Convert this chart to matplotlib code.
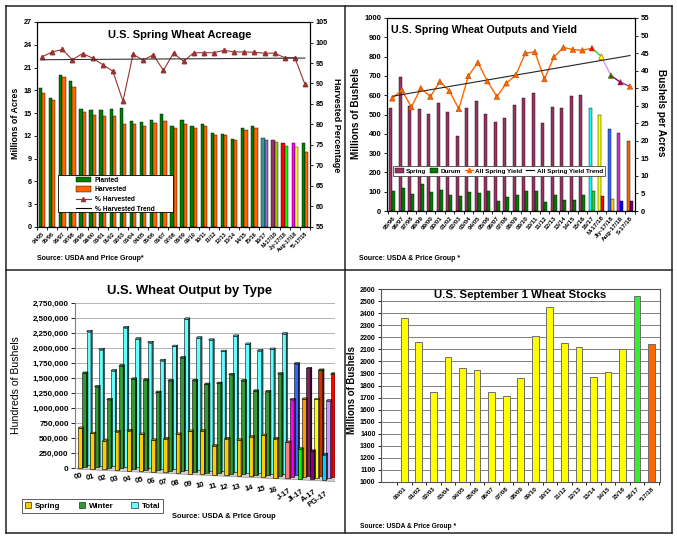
import numpy as np
import matplotlib.pyplot as plt
from matplotlib.patches import Patch, Polygon, Rectangle
from matplotlib.lines import Line2D
from matplotlib.colors import to_rgb

plt.rcParams['font.family'] = ['Liberation Sans', 'DejaVu Sans']
plt.rcParams['font.weight'] = 'bold'
plt.rcParams['axes.linewidth'] = 0.8
plt.rcParams['xtick.major.width'] = 0.6
plt.rcParams['ytick.major.width'] = 0.6
plt.rcParams['xtick.major.size'] = 2.5
plt.rcParams['ytick.major.size'] = 2.5

W, H = 677, 543

# --- U.S. Spring Wheat Acreage (million acres, % harvested) ---
acre_years = ['94/95', '95/96', '96/97', '97/98', '98/99', '99/00', '00/01', '01/02',
              '02/03', '03/04', '04/05', '05/06', '06/07', '07/08', '08/09', '09/10',
              '10/11', '11/12', '12/13', '13/14', '14/15', '15/16', '16/17',
              'M-17/18', 'Jly-17/18', 'Aug-17/18', '*S-17/18']
planted = [18.35, 17.0, 20.05, 19.2, 15.6, 15.45, 15.4, 15.6, 15.7, 13.9,
           13.8, 14.1, 14.9, 13.3, 14.1, 13.25, 13.6, 12.4, 12.3, 11.6,
           13.1, 13.35, 11.7, 11.4, 11.0, 11.0, 11.0]
harvested = [17.7, 16.7, 19.7, 18.4, 15.2, 14.8, 14.6, 14.6, 13.5, 13.5,
             13.25, 13.65, 13.95, 13.0, 13.5, 13.0, 13.3, 12.1, 12.1, 11.4,
             12.8, 13.0, 11.4, 11.15, 10.7, 10.6, 9.9]
pct_harvested = [96.5, 97.7, 98.3, 95.8, 97.3, 96.2, 94.6, 93.0, 85.7, 97.1,
                 95.7, 97.0, 93.2, 97.4, 95.4, 97.5, 97.5, 97.5, 98.1, 97.7,
                 97.7, 97.6, 97.4, 97.4, 96.3, 96.3, 89.8]
pct_trend_ends = [95.8, 96.2]
planted_colors = ['#008000'] * 22 + ['#339999', '#993366', '#FF0000', '#FF00FF', '#008000']
harvested_colors = ['#FF6600'] * 22 + ['#9966CC', '#99CC00', '#00FF00', '#FFFF00', '#FF6600']

# --- U.S. Spring Wheat Outputs and Yield (million bushels, bu/acre) ---
out_years = ['95/96', '96/97', '97/98', '98/99', '99/00', '00/01', '01/02', '02/03',
             '03/04', '04/05', '05/06', '06/07', '07/08', '08/09', '09/10', '10/11',
             '11/12', '12/13', '13/14', '14/15', '15/16', '16/17',
             'M-17/18', 'Jly-17/18', 'Aug-17/18', 'S-17/18']
spring_prod = [536, 692, 545, 531, 503, 559, 512, 389, 533, 569,
               505, 462, 481, 547, 585, 611, 455, 538, 533, 595,
               600, 535, 500, 426, 405, 365]
durum_prod = [102, 118, 88, 140, 99, 109, 83, 80, 97, 92,
              102, 54, 73, 83, 106, 102, 47, 83, 57, 55,
              81, 104, 78, 61, 52, 54]
spring_yield = [32.1, 34.5, 29.6, 35.0, 32.6, 36.9, 34.2, 29.1, 38.5, 42.3,
                37.0, 32.6, 36.4, 38.8, 45.0, 45.3, 37.6, 43.9, 46.6, 46.0,
                45.8, 46.4, 44.0, 38.6, 36.7, 35.5]
yield_trend_ends = [32.7, 44.3]
spring_prod_colors = ['#993366'] * 21 + ['#00FFFF', '#FFFF00', '#3366FF', '#CC33CC', '#FF6600']
durum_prod_colors = ['#008000'] * 21 + ['#33CC33', '#FF0000', '#FFCC00', '#0000FF', '#660066']
yield_marker_colors = ['#FF6600'] * 21 + ['#FF0000', '#FFFF00', '#008000', '#800080', '#FF6600']
yield_seg_colors = ['#33CC33', '#CC99FF', '#800080', '#993399']

# --- U.S. Wheat Output by Type (thousands) ---
type_years = ['00', '01', '02', '03', '04', '05', '06', '07', '08', '09', '10',
              '11', '12', '13', '14', '15', '16', 'J-17', 'Jl-17', 'A-17', 'PG-17']
spring_out = [667, 590, 475, 640, 665, 615, 525, 560, 645, 705, 720,
              480, 610, 595, 660, 695, 650, 600, 495, 470, 425]
winter_out = [1557, 1340, 1135, 1707, 1497, 1492, 1297, 1498, 1890, 1522, 1470,
              1495, 1650, 1555, 1395, 1395, 1700, 1280, 1300, 1305, 1290]
total_out = [2225, 1935, 1590, 2320, 2140, 2090, 1800, 2045, 2510, 2205, 2180,
             2000, 2265, 2140, 2040, 2075, 2340, 1850, 1780, 1765, 1710]
spring_out_colors = ['#FFCC00'] * 17 + ['#FF7C80', '#00FF00', '#800080', '#00CCFF']
winter_out_colors = ['#339933'] * 17 + ['#FF00FF', '#FF9900', '#FFFF00', '#CC99FF']
total_out_colors = ['#66FFFF'] * 17 + ['#3366FF', '#7F1F5F', '#CC3300', '#FF0000']

# --- U.S. September 1 Wheat Stocks (million bushels) ---
stock_years = ['00/01', '01/02', '02/03', '03/04', '04/05', '05/06', '06/07', '07/08',
               '08/09', '09/10', '10/11', '11/12', '12/13', '13/14', '14/15', '15/16',
               '16/17', '*17/18']
stocks = [2357, 2159, 1750, 2040, 1941, 1930, 1750, 1717, 1861, 2211,
          2448, 2153, 2117, 1869, 1908, 2100, 2545, 2142]
stock_colors = ['#FFFF00'] * 16 + ['#33EE33', '#FF6600']


fig = plt.figure(figsize=(W / 100, H / 100), dpi=100)
fig.patch.set_facecolor('white')


def axes_px(l, t, r, b):
    return fig.add_axes([l / W, 1 - b / H, (r - l) / W, (b - t) / H])


def ftext(x, y, s, **kw):
    fig.text(x / W, 1 - y / H, s, **kw)


def category_ticks(ax, labels, size, rot):
    n = len(labels)
    ax.set_xticks(np.arange(n + 1) - 0.5)
    ax.set_xticklabels([])
    ax.set_xticks(np.arange(n), minor=True)
    ax.set_xticklabels(labels, minor=True, rotation=rot, ha='right',
                       rotation_mode='anchor', fontsize=size)
    ax.tick_params(axis='x', which='minor', length=0, pad=3)


def shade(c, f):
    r, g, b = to_rgb(c)
    return (r * f, g * f, b * f)


# ================= Panel 1 =================
ax1 = axes_px(37, 22, 310, 227)
x1 = np.arange(len(acre_years))
ax1.bar(x1 - 0.16, planted, 0.32, color=planted_colors, edgecolor='black', lw=0.3)
ax1.bar(x1 + 0.16, harvested, 0.32, color=harvested_colors, edgecolor='black', lw=0.3)
ax1.set_xlim(-0.46, len(x1) - 0.5)
ax1.set_ylim(0, 27)
ax1.set_yticks(range(0, 28, 3))
ax1.tick_params(axis='y', labelsize=5.2, pad=1.5)
category_ticks(ax1, acre_years, 4.0, 45)

ax1r = ax1.twinx()
ax1r.plot(x1, pct_harvested, color='#993333', lw=0.8, marker='^', ms=3.2,
          mfc='#993333', mec='#993333')
ax1r.plot([x1[0], x1[-1]], pct_trend_ends, color='#333333', lw=0.8)
ax1r.set_ylim(55, 105)
ax1r.set_yticks(range(55, 106, 5))
ax1r.tick_params(axis='y', labelsize=5.2, pad=1.5)
ax1r.set_xlim(ax1.get_xlim())

# legend frame drawn separately (wide left margin as in the source chart)
fig.add_artist(Rectangle((58 / W, 1 - 212 / H), 115 / W, 37 / H, transform=fig.transFigure,
                         fc='white', ec='black', lw=0.6, zorder=4))
h1 = [Patch(fc='#008000', ec='black', lw=0.3), Patch(fc='#FF6600', ec='black', lw=0.3),
      Line2D([], [], color='#993333', lw=0.8, marker='^', ms=3),
      Line2D([], [], color='black', lw=0.8)]
leg1 = fig.legend(h1, ['Planted', 'Harvested', '% Harvested', '% Harvested Trend'],
                  loc='upper left', bbox_to_anchor=(76 / W, 1 - 176.5 / H),
                  fontsize=4.8, frameon=False, handlelength=2.2, handleheight=0.8,
                  borderpad=0, labelspacing=0.42, borderaxespad=0, handletextpad=0.6)
leg1.set_zorder(5)

ftext(180, 35, 'U.S. Spring Wheat Acreage', fontsize=8, ha='center', va='center')
ftext(15, 123, 'Millions of Acres', fontsize=6.4, rotation=90, ha='center', va='center')
ftext(337, 125, 'Harvested Percentage', fontsize=6.4, rotation=270, ha='center', va='center')
ftext(37, 258, 'Source: USDA and Price Group*', fontsize=5, ha='left', va='center')

# ================= Panel 2 =================
ax2 = axes_px(387, 18, 635, 211)
x2 = np.arange(len(out_years))
ax2.bar(x2 - 0.16, spring_prod, 0.32, color=spring_prod_colors, edgecolor='black', lw=0.3)
ax2.bar(x2 + 0.16, durum_prod, 0.32, color=durum_prod_colors, edgecolor='black', lw=0.3)
ax2.set_xlim(-0.56, len(x2) - 0.47)
ax2.set_ylim(0, 1000)
ax2.set_yticks(range(0, 1001, 100))
ax2.tick_params(axis='y', labelsize=5.5, pad=1.5)
category_ticks(ax2, out_years, 4.5, 50)

ax2r = ax2.twinx()
n_main = 22
ax2r.plot(x2[:n_main], spring_yield[:n_main], color='#FF6600', lw=1.0)
for k, c in enumerate(yield_seg_colors):
    i = n_main - 1 + k
    ax2r.plot(x2[i:i + 2], spring_yield[i:i + 2], color=c, lw=1.0)
ax2r.scatter(x2, spring_yield, marker='^', s=16, c=yield_marker_colors,
             edgecolors='#B34700', linewidths=0.4, zorder=5)
ax2r.plot([x2[0], x2[-1]], yield_trend_ends, color='#222222', lw=0.8)
ax2r.set_ylim(0, 55)
ax2r.set_yticks(range(0, 56, 5))
ax2r.tick_params(axis='y', labelsize=5.5, pad=1.5)
ax2r.set_xlim(ax2.get_xlim())

h2 = [Patch(fc='#993366', ec='black', lw=0.3), Patch(fc='#008000', ec='black', lw=0.3),
      Line2D([], [], color='#FF6600', lw=0.9, marker='^', ms=3, mfc='#FF6600'),
      Line2D([], [], color='black', lw=0.8)]
leg2 = ax2r.legend(h2, ['Spring', 'Durum', 'All Spring Yield', 'All Spring Yield Trend'],
                   loc='upper left', bbox_to_anchor=(393 / W, 1 - 166 / H),
                   bbox_transform=fig.transFigure, ncol=4, fontsize=4.6, frameon=True,
                   fancybox=False, edgecolor='#444444', framealpha=1,
                   handlelength=1.3, handleheight=0.7, borderpad=0.35,
                   columnspacing=0.6, handletextpad=0.35, borderaxespad=0)
leg2.get_frame().set_linewidth(0.6)

ftext(391, 30, 'U.S. Spring Wheat Outputs and Yield', fontsize=7.7, ha='left', va='center')
ftext(356, 113, 'Millions of Bushels', fontsize=7.2, rotation=90, ha='center', va='center')
ftext(661, 113, 'Bushels per Acres', fontsize=7.2, rotation=270, ha='center', va='center')
ftext(359, 258, 'Source: USDA & Price Group *', fontsize=5, ha='left', va='center')

# ================= Panel 3 (pseudo 3-D columns) =================
ax3 = axes_px(75, 303.3, 335, 483.9)
x3 = np.arange(len(type_years))
FLOOR_DROP = 9750
base3 = -FLOOR_DROP * x3
ax3.set_xlim(-0.78, len(x3) - 0.47)
ax3.set_ylim(-260000, 2750000)

fl_x0, fl_x1 = -0.6, len(x3) - 0.5
floor_poly = [(fl_x0, -FLOOR_DROP * fl_x0 - 20000), (fl_x1, -FLOOR_DROP * fl_x1 - 20000),
              (fl_x1 + 0.3, -FLOOR_DROP * fl_x1 + 70000), (fl_x0 + 0.3, -FLOOR_DROP * fl_x0 + 70000)]
ax3.add_patch(Polygon(floor_poly, closed=True, fc='#D0D0D0', ec='#909090', lw=0.5, zorder=1.5))

bw, ddx, ddy = 0.36, 0.1, 22000
rows = [(total_out, total_out_colors, 0.35, 54000, 2),
        (winter_out, winter_out_colors, 0.0, 27000, 3),
        (spring_out, spring_out_colors, -0.35, 0, 4)]
for vals, cols, off, lift, z in rows:
    v = np.array(vals) * 1000
    xs = x3 + off
    bot = base3 + lift
    ax3.bar(xs, v, bw, bottom=bot, color=cols, edgecolor='black', lw=0.4, zorder=z)
    for xi, vi, bi, c in zip(xs, v, bot, cols):
        r = xi + bw / 2
        side = [(r, bi), (r + ddx, bi + ddy), (r + ddx, bi + vi + ddy), (r, bi + vi)]
        top = [(xi - bw / 2, bi + vi), (r, bi + vi), (r + ddx, bi + vi + ddy),
               (xi - bw / 2 + ddx, bi + vi + ddy)]
        ax3.add_patch(Polygon(side, closed=True, fc=shade(c, 0.5), ec='black', lw=0.4, zorder=z))
        ax3.add_patch(Polygon(top, closed=True, fc=shade(c, 0.85), ec='black', lw=0.4, zorder=z))

yt3 = list(range(0, 2750001, 250000))
ax3.set_yticks(yt3)
ax3.set_yticklabels([f'{v:,}' for v in yt3], fontsize=5.8)
ax3.tick_params(axis='y', pad=1.5, length=3)
ax3.yaxis.grid(True, color='#A8A8A8', lw=0.6)
ax3.set_axisbelow(True)
ax3.set_xticks([])
for s in ['top', 'right', 'bottom']:
    ax3.spines[s].set_visible(False)
ax3.spines['left'].set_bounds(0, 2750000)
ax3.spines['left'].set_color('#808080')
for i, lab in enumerate(type_years):
    rot = 15 if i < 17 else 35
    ax3.text(i - 0.25, -(FLOOR_DROP + 5000) * i - 60000, lab, rotation=rot,
             rotation_mode='anchor', ha='right', va='top', fontsize=5.6, clip_on=False)

h3 = [Patch(fc='#FFCC00', ec='black', lw=0.4), Patch(fc='#339933', ec='black', lw=0.4),
      Patch(fc='#66FFFF', ec='black', lw=0.4)]
leg3 = ax3.legend(h3, ['Spring', 'Winter', 'Total'], loc='upper left',
                  bbox_to_anchor=(22 / W, 1 - 499 / H), bbox_transform=fig.transFigure,
                  ncol=3, fontsize=5.8, frameon=True, fancybox=False, edgecolor='#444444',
                  framealpha=1, handlelength=0.8, handleheight=0.8, borderpad=0.35,
                  columnspacing=2.2, handletextpad=0.5, borderaxespad=0)
leg3.get_frame().set_linewidth(0.6)

ftext(190, 291, 'U.S. Wheat Output by Type', fontsize=9.4, ha='center', va='center')
ftext(16, 385, 'Hundreds of Bushels', fontsize=7.6, fontweight='normal',
      rotation=90, ha='center', va='center')
ftext(172, 517, 'Source: USDA & Price Group', fontsize=5.4, ha='left', va='center')

# ================= Panel 4 =================
ax4 = axes_px(381, 289, 660, 482)
x4 = np.arange(len(stock_years))
ax4.bar(x4, stocks, 0.46, color=stock_colors, edgecolor='#6E6E6E', lw=0.7, zorder=3)
ax4.set_ylim(1000, 2600)
ax4.set_yticks(range(1000, 2601, 100))
ax4.tick_params(axis='y', labelsize=5, pad=1.5)
ax4.set_xlim(-1.6, len(x4) - 0.43)
ax4.yaxis.grid(True, color='#808080', lw=0.7)
ax4.set_axisbelow(True)
category_ticks(ax4, stock_years, 4.5, 45)
for s in ax4.spines.values():
    s.set_color('#555555')

ftext(520, 295, 'U.S. September 1 Wheat Stocks', fontsize=8.2, ha='center', va='center')
ftext(352, 390, 'Millions of Bushels', fontsize=6.9, rotation=90, ha='center', va='center')
ftext(360, 527, 'Source: USDA & Price Group *', fontsize=4.8, ha='left', va='center')

# ================= panel frames =================
for xa, ya, xb, yb in [(6, 6, 672, 6), (6, 270, 672, 270), (6, 533, 672, 533),
                       (6, 6, 6, 533), (345.5, 6, 345.5, 533), (672, 6, 672, 533)]:
    fig.add_artist(Line2D([xa / W, xb / W], [1 - ya / H, 1 - yb / H],
                          color='#222222', lw=1.1, transform=fig.transFigure))

fig.savefig('out.png', dpi=100)
